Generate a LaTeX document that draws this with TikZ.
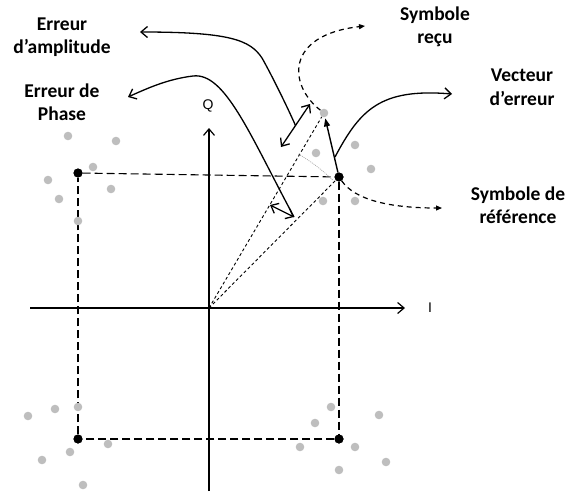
\documentclass[tikz,border=0pt]{standalone}
\usepackage{fontspec}
\setmainfont{Carlito}
\newfontfamily\axisfont{Liberation Sans}
\usetikzlibrary{arrows.meta}
\definecolor{dotgray}{HTML}{BEBEBE}
\definecolor{arcgray}{HTML}{A8A8A8}
\begin{document}
\begin{tikzpicture}[x=1pt,y=-1pt,
  gdot/.style={circle,fill=dotgray,draw=none,inner sep=0pt,minimum size=8.6pt},
  bdot/.style={circle,fill=black,draw=none,inner sep=0pt,minimum size=9pt},
  lbl/.style={font=\bfseries\fontsize{19.5}{23.5}\selectfont,align=center,inner sep=0pt},
  axlbl/.style={font=\axisfont\fontsize{14}{16}\selectfont,inner sep=0pt},
  barb/.tip={Straight Barb[length=6.5pt,width=11pt]},
  axisline/.style={line width=1.2pt,-barb},
  rectdash/.style={line width=1.1pt,dash pattern=on 8pt off 4pt},
  dotline/.style={line width=0.9pt,dash pattern=on 3pt off 2.5pt},
  callout/.style={line width=1.3pt,-barb},
  dcallout/.style={line width=1.2pt,dash pattern=on 5pt off 4pt,-{Triangle[length=6pt,width=5pt]}},
  dblarrow/.style={line width=1.3pt,barb-barb},
  errvec/.style={line width=1.4pt,-{Triangle[length=8pt,width=6pt]},shorten >=1pt}
]
\useasboundingbox (0,0) rectangle (565,493);

% axes coordinates
\coordinate (O) at (209,308);
\coordinate (Ileft) at (30,308);
\coordinate (Iend) at (405,308);
\coordinate (Qbot) at (209,491);
\coordinate (Qtop) at (209,128);

% reference symbols
\node[bdot] (TL) at (78,173) {};
\node[bdot] (TR) at (339,177) {};
\node[bdot] (BL) at (78,439) {};
\node[bdot] (BR) at (339,439) {};

% dashed rectangle
\draw[rectdash] (TL) -- (TR);
\draw[rectdash] (TR) -- (BR);
\draw[rectdash] (BR) -- (BL);
\draw[rectdash] (BL) -- (TL);

% axes
\draw[axisline] (Ileft) -- (Iend);
\draw[axisline] (Qbot) -- (Qtop);
\node[axlbl] (Ilbl) at (430,308) {I};
\node[axlbl] (Qlbl) at (208,106) {Q};

% gray scattered symbols
\node[gdot] (g1) at (68,136) {};
\node[gdot] (g2) at (116,141) {};
\node[gdot] (g3) at (93,167) {};
\node[gdot] (g4) at (48,180) {};
\node[gdot] (g5) at (111,189) {};
\node[gdot] (g6) at (59,199) {};
\node[gdot] (g7) at (78,221) {};
\node[gdot] (g8) at (78,407) {};
\node[gdot] (g9) at (55,409) {};
\node[gdot] (g10) at (28,416) {};
\node[gdot] (g11) at (108,444) {};
\node[gdot] (g12) at (70,452) {};
\node[gdot] (g13) at (42,460) {};
\node[gdot] (g14) at (83,485) {};
\node[gdot] (g15) at (331,407) {};
\node[gdot] (g16) at (379,415) {};
\node[gdot] (g17) at (315,423) {};
\node[gdot] (g18) at (300,447) {};
\node[gdot] (g19) at (355,447) {};
\node[gdot] (g20) at (386,462) {};
\node[gdot] (g21) at (339,470) {};
\node[gdot] (g22) at (316,153) {};
\node[gdot] (g23) at (355,145) {};
\node[gdot] (g24) at (371,169) {};
\node[gdot] (g25) at (323,201) {};
\node[gdot] (g26) at (355,201) {};
\node[gdot] (R) at (324,113) {};

% redraw black dots on top
\node[bdot] at (TL) {};
\node[bdot] at (TR) {};
\node[bdot] at (BL) {};
\node[bdot] at (BR) {};

% dotted vectors from origin
\draw[dotline] (O) -- (R);
\draw[dotline] (O) -- (TR);

% phase arc
\draw[arcgray,line width=0.7pt,dash pattern=on 1pt off 1pt] (O) ++(-46:178) arc[start angle=-46,end angle=-60,radius=178];

% error vector
\draw[errvec] (TR) -- (R);

% amplitude and phase error double arrows
\coordinate (A1) at (281,147);
\coordinate (A2) at (310,104);
\coordinate (Am) at (295.5,125.5);
\draw[dblarrow] (A1) -- (A2);
\coordinate (P1) at (270,205);
\coordinate (P2) at (294,217);
\draw[dblarrow] (P1) -- (P2);

% callout end points
\coordinate (E1) at (140,32);
\coordinate (E2) at (128,97);
\coordinate (E3) at (365,26);
\coordinate (E4) at (452,94);
\coordinate (E5) at (442,208);
\coordinate (Em) at (335,157);

% callouts
\draw[callout] (Am) .. controls (286,104) and (270,72) .. (262,58) .. controls (250,40) and (230,32) .. (E1);
\draw[callout] (P2) .. controls (250,135) and (225,72) .. (193,76) .. controls (168,79) and (148,88) .. (E2);
\draw[dcallout] (R) .. controls (288,85) and (285,35) .. (E3);
\draw[callout] (Em) .. controls (360,110) and (380,88) .. (E4);
\draw[dcallout] (TR) .. controls (355,200) and (390,208) .. (E5);

% labels
\node[lbl] (lamp) at (62,37) {Erreur\\d’amplitude};
\node[lbl] (lphase) at (62,102) {Erreur de\\Phase};
\node[lbl] (lrecu) at (435,27) {Symbole\\reçu};
\node[lbl] (lvec) at (522,87) {Vecteur\\d’erreur};
\node[lbl] (lref) at (518,205) {Symbole de\\référence};
\end{tikzpicture}
\end{document}
